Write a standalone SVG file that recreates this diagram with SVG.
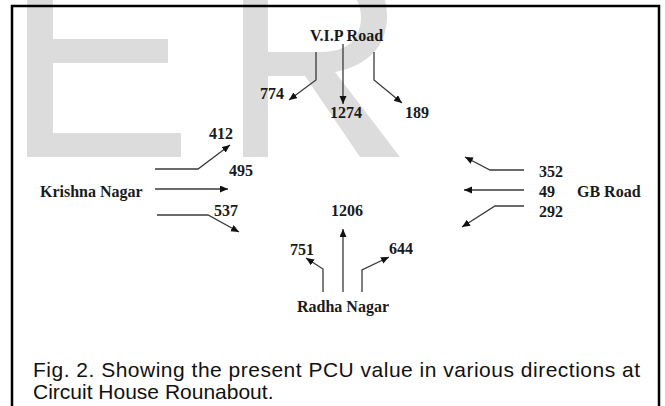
<svg xmlns="http://www.w3.org/2000/svg" width="665" height="406" viewBox="0 0 665 406">
<style>
.lbl{font-family:"Liberation Serif","Times New Roman",serif;font-weight:bold;font-size:16px;fill:#1a1a1a}
.cap{font-family:"Liberation Sans",Arial,sans-serif;font-size:21px;fill:#111}
.wm{fill:#dcdcdc}
.ln{fill:none;stroke:#3a3a3a;stroke-width:1.3;marker-end:url(#ah)}
</style>
<defs>
<marker id="ah" markerUnits="userSpaceOnUse" markerWidth="9" markerHeight="8" refX="8" refY="3.5" orient="auto">
<path d="M0,0 L8,3.5 L0,7 Z" fill="#111"/>
</marker>
</defs>
<rect width="665" height="406" fill="#fff"/>
<g id="watermark">
<path class="wm" d="M27,-40 H53 V133 H181 V157 H27 Z M53,39 H168 V63 H53 Z"/>
<path class="wm" fill-rule="evenodd" d="M243,-39 H325 C365,-39 387,-15 387,17 C387,45 368,66 335,72 L400,157 H360 L305,76 H268 V157 H243 Z M268,-15 V52 H322 C348,52 361,38 361,17 C361,-4 346,-15 322,-15 Z"/>
</g>
<rect id="frame" x="12" y="6" width="647" height="420" fill="none" stroke="#000" stroke-width="2.5"/>
<g id="connectors">
<path class="ln" d="M316,52 V80 L289,100"/>
<path class="ln" d="M343,44 V104"/>
<path class="ln" d="M374,52 V80 L402,103"/>
<path class="ln" d="M155,169 H198 L230,145"/>
<path class="ln" d="M155,189 H228"/>
<path class="ln" d="M157,215 H208 L239,232"/>
<path class="ln" d="M524,170 H490 L465,157"/>
<path class="ln" d="M524,190 H464"/>
<path class="ln" d="M524,206 H495 L462,227"/>
<path class="ln" d="M323,292 V269 L306,258"/>
<path class="ln" d="M343,292 V229"/>
<path class="ln" d="M362,292 V270 L389,257"/>
</g>
<g id="vip-road"><text class="lbl" x="310" y="41">V.I.P Road</text></g>
<g id="krishna-nagar"><text class="lbl" x="40" y="197">Krishna Nagar</text></g>
<g id="gb-road"><text class="lbl" x="577" y="197">GB Road</text></g>
<g id="radha-nagar"><text class="lbl" x="297" y="312">Radha Nagar</text></g>
<g id="values">
<text class="lbl" x="260" y="99">774</text>
<text class="lbl" x="330" y="118">1274</text>
<text class="lbl" x="405" y="118">189</text>
<text class="lbl" x="209" y="139">412</text>
<text class="lbl" x="229" y="176">495</text>
<text class="lbl" x="214" y="216">537</text>
<text class="lbl" x="539" y="177">352</text>
<text class="lbl" x="539" y="197">49</text>
<text class="lbl" x="539" y="217">292</text>
<text class="lbl" x="331" y="216">1206</text>
<text class="lbl" x="290" y="255">751</text>
<text class="lbl" x="389" y="254">644</text>
</g>
<g id="caption">
<text class="cap" x="33" y="377" textLength="607" lengthAdjust="spacing">Fig. 2. Showing the present PCU value in various directions at</text>
<text class="cap" x="33" y="399">Circuit House Rounabout.</text>
</g>
</svg>
